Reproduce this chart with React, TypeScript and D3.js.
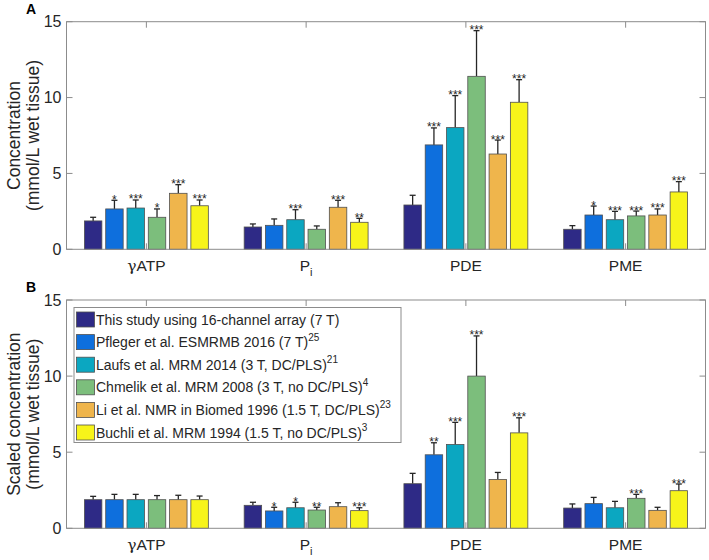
import * as React from "react";
import * as d3 from "d3";

// categories and series
const categories = ["gATP", "Pi", "PDE", "PME"];
const seriesNames = [
  "This study using 16-channel array (7 T)",
  "Pfleger et al. ESMRMB 2016 (7 T)",
  "Laufs et al. MRM 2014 (3 T, DC/PLS)",
  "Chmelik et al. MRM 2008 (3 T, no DC/PLS)",
  "Li et al. NMR in Biomed 1996 (1.5 T, DC/PLS)",
  "Buchli et al. MRM 1994 (1.5 T, no DC/PLS)",
];
const seriesRefs = ["", "25", "21", "4", "23", "3"];
const colors = ["#2e2a86", "#0e6fdd", "#0ba7c1", "#7cbe7c", "#efb54c", "#f7f41a"];

// panel A: concentration (rows = categories, columns = series)
const concA = [
  [1.87, 2.66, 2.72, 2.11, 3.69, 2.87],
  [1.47, 1.58, 1.95, 1.32, 2.77, 1.78],
  [2.92, 6.88, 8.02, 11.4, 6.28, 9.69],
  [1.32, 2.26, 1.95, 2.2, 2.26, 3.78],
];
const errA = [
  [0.24, 0.57, 0.53, 0.55, 0.57, 0.38],
  [0.2, 0.42, 0.66, 0.22, 0.46, 0.26],
  [0.64, 1.12, 2.11, 3.01, 0.92, 1.49],
  [0.24, 0.59, 0.55, 0.32, 0.4, 0.68],
];
const starsA = [
  ["", "*", "***", "*", "***", "***"],
  ["", "", "***", "", "***", "**"],
  ["", "***", "***", "***", "***", "***"],
  ["", "*", "***", "***", "***", "***"],
];

// panel B: scaled concentration
const concB = [
  [1.88, 1.88, 1.88, 1.88, 1.88, 1.88],
  [1.51, 1.14, 1.35, 1.2, 1.42, 1.16],
  [2.93, 4.83, 5.51, 10.0, 3.21, 6.27],
  [1.33, 1.62, 1.35, 1.97, 1.18, 2.47],
];
const errB = [
  [0.22, 0.35, 0.35, 0.27, 0.29, 0.24],
  [0.2, 0.24, 0.36, 0.18, 0.26, 0.19],
  [0.68, 0.79, 1.45, 2.64, 0.46, 0.99],
  [0.27, 0.41, 0.42, 0.26, 0.2, 0.44],
];
const starsB = [
  ["", "", "", "", "", ""],
  ["", "*", "*", "**", "", "***"],
  ["", "**", "***", "***", "", "***"],
  ["", "", "", "***", "", "***"],
];

const yTicks = [0, 5, 10, 15];

const FONT = "'Liberation Sans', Arial, Helvetica, sans-serif";
const TXT = "#262626";
const AXIS = "#8c8c8c";

const left = 66.5;
const right = 705.5;

function CatLabel({ c, x, y }: { c: string; x: number; y: number }) {
  if (c === "gATP") {
    return (
      <text x={x} y={y} textAnchor="middle" fontSize={15.5} fill={TXT}>
        <tspan fontFamily="'DejaVu Serif', serif" fontStyle="normal">γ</tspan>ATP
      </text>
    );
  }
  if (c === "Pi") {
    return (
      <text x={x} y={y} textAnchor="middle" fontSize={15.5} fill={TXT}>
        P<tspan fontSize={11} dy={5}>i</tspan>
      </text>
    );
  }
  return (
    <text x={x} y={y} textAnchor="middle" fontSize={15.5} fill={TXT}>
      {c}
    </text>
  );
}

interface PanelProps {
  top: number;
  bottom: number;
  values: number[][];
  errs: number[][];
  stars: string[][];
  letter: string;
  label: string[];
  legend?: boolean;
}

function Panel({ top, bottom, values, errs, stars, letter, label, legend }: PanelProps) {
  const x0 = d3.scaleBand<string>().domain(categories).range([left, right]).padding(0);
  const x1 = d3
    .scaleBand<number>()
    .domain(d3.range(seriesNames.length))
    .range([16, x0.bandwidth() - 16])
    .paddingInner(0.18)
    .paddingOuter(0.09);
  const y = d3.scaleLinear().domain([0, 15]).range([bottom, top]);
  const bw = x1.bandwidth();
  const midY = (top + bottom) / 2;

  return (
    <g fontFamily={FONT}>
      {/* bars */}
      {categories.map((c, ci) => (
        <g key={c} transform={`translate(${x0(c)},0)`}>
          {values[ci].map((v, si) => {
            const bx = x1(si)!;
            const cx = bx + bw / 2;
            const yt = y(v + errs[ci][si]);
            return (
              <g key={si}>
                <line x1={cx} x2={cx} y1={y(v)} y2={yt} stroke={TXT} strokeWidth={1.3} />
                <line x1={cx - 3} x2={cx + 3} y1={yt} y2={yt} stroke={TXT} strokeWidth={1.3} />
                <rect
                  x={bx}
                  y={y(v)}
                  width={bw}
                  height={y(0) - y(v)}
                  fill={colors[si]}
                  stroke="#505050"
                  strokeWidth={0.8}
                />
                {stars[ci][si] && (
                  <text x={cx} y={yt + 3.5} textAnchor="middle" fontSize={12} fill={TXT}>
                    {stars[ci][si]}
                  </text>
                )}
              </g>
            );
          })}
        </g>
      ))}

      {/* axes box */}
      <rect x={left} y={top} width={right - left} height={bottom - top} fill="none" stroke={AXIS} strokeWidth={1} />
      {yTicks.map((t) => (
        <g key={t}>
          <line x1={left} x2={left + 6} y1={y(t)} y2={y(t)} stroke={AXIS} />
          <line x1={right - 6} x2={right} y1={y(t)} y2={y(t)} stroke={AXIS} />
          <text x={61.5} y={y(t)} dy="0.35em" textAnchor="end" fontSize={16} fill={TXT}>
            {t}
          </text>
        </g>
      ))}
      {categories.map((c) => {
        const cx = x0(c)! + x0.bandwidth() / 2;
        return (
          <g key={c}>
            <line x1={cx} x2={cx} y1={bottom} y2={bottom - 6} stroke={AXIS} />
            <line x1={cx} x2={cx} y1={top} y2={top + 6} stroke={AXIS} />
            <CatLabel c={c} x={cx} y={bottom + 21.5} />
          </g>
        );
      })}

      {/* y label */}
      <text transform={`translate(20,${midY}) rotate(-90)`} textAnchor="middle" fontSize={17.5} fill={TXT}>
        {label[0]}
      </text>
      <text transform={`translate(39,${midY}) rotate(-90)`} textAnchor="middle" fontSize={17.5} fill={TXT}>
        {label[1]}
      </text>

      <text x={26} y={top - 8} fontSize={14} fontWeight="bold" fill="#000">
        {letter}
      </text>

      {legend && (
        <g>
          <rect x={74} y={307.5} width={327} height={135} fill="#fff" stroke={AXIS} strokeWidth={1} />
          {seriesNames.map((s, i) => {
            const cy = 319.5 + i * 22.6;
            return (
              <g key={s}>
                <rect x={76.5} y={cy - 7.5} width={18} height={15} fill={colors[i]} stroke="#505050" strokeWidth={0.8} />
                <text x={96} y={cy} dy="0.36em" fontSize={14} fill={TXT}>
                  {s}
                  {seriesRefs[i] && (
                    <tspan fontSize={10} dy={-6.5}>
                      {seriesRefs[i]}
                    </tspan>
                  )}
                </text>
              </g>
            );
          })}
        </g>
      )}
    </g>
  );
}

export default function App() {
  return (
    <svg
      width={709}
      height={560}
      style={{ position: "absolute", left: 0, top: 0, background: "#fff" }}
    >
      <rect width={709} height={560} fill="#fff" />
      <Panel
        top={21.7}
        bottom={249.3}
        values={concA}
        errs={errA}
        stars={starsA}
        letter="A"
        label={["Concentration", "(mmol/L wet tissue)"]}
      />
      <Panel
        top={300}
        bottom={528.3}
        values={concB}
        errs={errB}
        stars={starsB}
        letter="B"
        label={["Scaled concentration", "(mmol/L wet tissue)"]}
        legend
      />
    </svg>
  );
}
